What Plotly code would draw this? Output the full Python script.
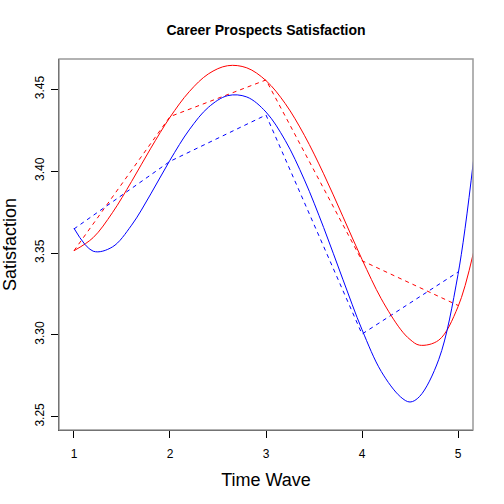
import plotly.graph_objects as go

# mean satisfaction per wave (dashed lines)
wave_x = [1, 2, 3, 4, 5]
red_means = [3.3514, 3.4333, 3.4557, 3.3453, 3.3180]
blue_means = [3.3647, 3.4060, 3.4343, 3.3005, 3.3384]

# smooth trend curves (solid lines)
curve_x = [1.0, 1.2, 1.4, 1.6, 1.8, 2.0, 2.2, 2.4, 2.6, 2.8, 3.0,
           3.2, 3.4, 3.6, 3.8, 4.0, 4.2, 4.4, 4.5, 4.6, 4.8, 5.0, 5.16]
red_curve = [3.3514, 3.3594, 3.3746, 3.3937, 3.4140, 3.4329, 3.4485, 3.4594,
             3.4644, 3.4631, 3.4553, 3.4413, 3.4219, 3.3984, 3.3724, 3.3461,
             3.3221, 3.3035, 3.2972, 3.2937, 3.2968, 3.3172, 3.3500]
blue_curve = [3.3651, 3.3511, 3.3537, 3.3670, 3.3861, 3.4067, 3.4252, 3.4390,
              3.4461, 3.4453, 3.4361, 3.4188, 3.3947, 3.3656, 3.3340, 3.3032,
              3.2777, 3.2622, 3.2590, 3.2624, 3.2851, 3.3369, 3.4060]

x_ticks = [1, 2, 3, 4, 5]
y_ticks = [3.25, 3.30, 3.35, 3.40, 3.45]
y_tick_text = ["3.25", "3.30", "3.35", "3.40", "3.45"]

fig = go.Figure()
fig.add_trace(go.Scatter(x=wave_x, y=red_means, mode="lines",
                         line=dict(color="#ff0000", width=1, dash="4px,4px")))
fig.add_trace(go.Scatter(x=wave_x, y=blue_means, mode="lines",
                         line=dict(color="#0000ff", width=1, dash="4px,4px")))
fig.add_trace(go.Scatter(x=curve_x, y=red_curve, mode="lines",
                         line=dict(color="#ff0000", width=1, shape="spline")))
fig.add_trace(go.Scatter(x=curve_x, y=blue_curve, mode="lines",
                         line=dict(color="#0000ff", width=1, shape="spline")))

font = "Liberation Sans, Arial, sans-serif"
fig.update_layout(
    width=504, height=504,
    margin=dict(l=59, r=31, t=59, b=74, autoexpand=False),
    showlegend=False,
    plot_bgcolor="white", paper_bgcolor="white",
    font=dict(family=font, color="black"),
    title=dict(text="<b>Career Prospects Satisfaction</b>", x=0.5, xref="paper",
               xanchor="center", y=1 - 30 / 504, yref="container", yanchor="middle",
               font=dict(size=14)),
    shapes=[dict(type="rect", xref="paper", yref="paper", x0=0, y0=0, x1=1, y1=1,
                 line=dict(color="#999999", width=1.5), layer="above")],
)
fig.update_xaxes(
    range=[0.844, 5.156], tickvals=x_ticks, showgrid=False, zeroline=False,
    showline=True, linecolor="black", linewidth=1, automargin=False,
    ticks="outside", ticklen=7, tickcolor="black", tickfont=dict(size=12),
    ticklabelstandoff=6,
    title=dict(text="Time Wave", font=dict(size=18), standoff=12),
)
fig.update_yaxes(
    range=[3.2419, 3.4685], tickvals=y_ticks, ticktext=y_tick_text,
    showgrid=False, zeroline=False, automargin=False,
    showline=True, linecolor="black", linewidth=1,
    ticks="outside", ticklen=7, tickcolor="black", tickfont=dict(size=12),
    tickangle=-90, ticklabelstandoff=2,
    title=dict(text="Satisfaction", font=dict(size=18), standoff=30),
)

# drop the browser's default 8px body margin so the figure fills the window
fig.write_html("out.html", config={"displayModeBar": False},
               post_script="document.body.style.margin = '0';")
